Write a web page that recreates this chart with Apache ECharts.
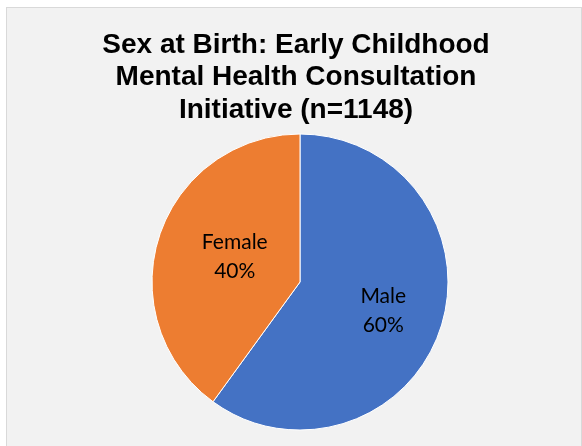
<!DOCTYPE html>
<html>
<head>
<meta charset="utf-8">
<script src="https://cdn.jsdelivr.net/npm/echarts@6/dist/echarts.min.js"></script>
<style>
  html, body { margin: 0; padding: 0; background: #ffffff; }
  .frame {
    position: absolute; left: 6px; top: 7px; width: 574px; height: 445px;
    background: #f2f2f2; border: 1px solid #d9d9d9;
  }
  #main { position: absolute; left: 0; top: 0; width: 582px; height: 446px; }
</style>
</head>
<body>
<div class="frame"></div>
<div id="main"></div>
<script>
// categories and values
var categories = ['Male', 'Female'];
var percents = [60, 40];
var colors = ['#4472c4', '#ed7d31'];
// small nudge so labels sit where Excel put them
var labelOffsets = [[10, 5], [8, -1]];

var chart = echarts.init(document.getElementById('main'));

var pieData = [];
for (var i = 0; i < categories.length; i++) {
    pieData.push({
        name: categories[i],
        value: percents[i],
        itemStyle: { color: colors[i] },
        label: { offset: labelOffsets[i] }
    });
}

var option = {
    backgroundColor: 'transparent',
    title: {
        text: 'Sex at Birth: Early Childhood\nMental Health Consultation\nInitiative (n=1148)',
        left: 291,
        textAlign: 'center',
        top: 24,
        textStyle: {
            fontFamily: 'Liberation Sans',
            fontWeight: 'bold',
            fontSize: 28,
            lineHeight: 32.5,
            color: '#000000'
        }
    },
    series: [{
        type: 'pie',
        center: [300, 282],
        radius: 148,
        startAngle: 90,
        clockwise: true,
        animation: false,
        itemStyle: { borderColor: '#ffffff', borderWidth: 1 },
        label: {
            position: 'inside',
            formatter: '{b}\n{c}%',
            fontFamily: 'Lato',
            fontSize: 21,
            lineHeight: 29,
            color: '#000000'
        },
        labelLine: { show: false },
        emphasis: { disabled: true },
        data: pieData
    }]
};
chart.setOption(option);
</script>
</body>
</html>
